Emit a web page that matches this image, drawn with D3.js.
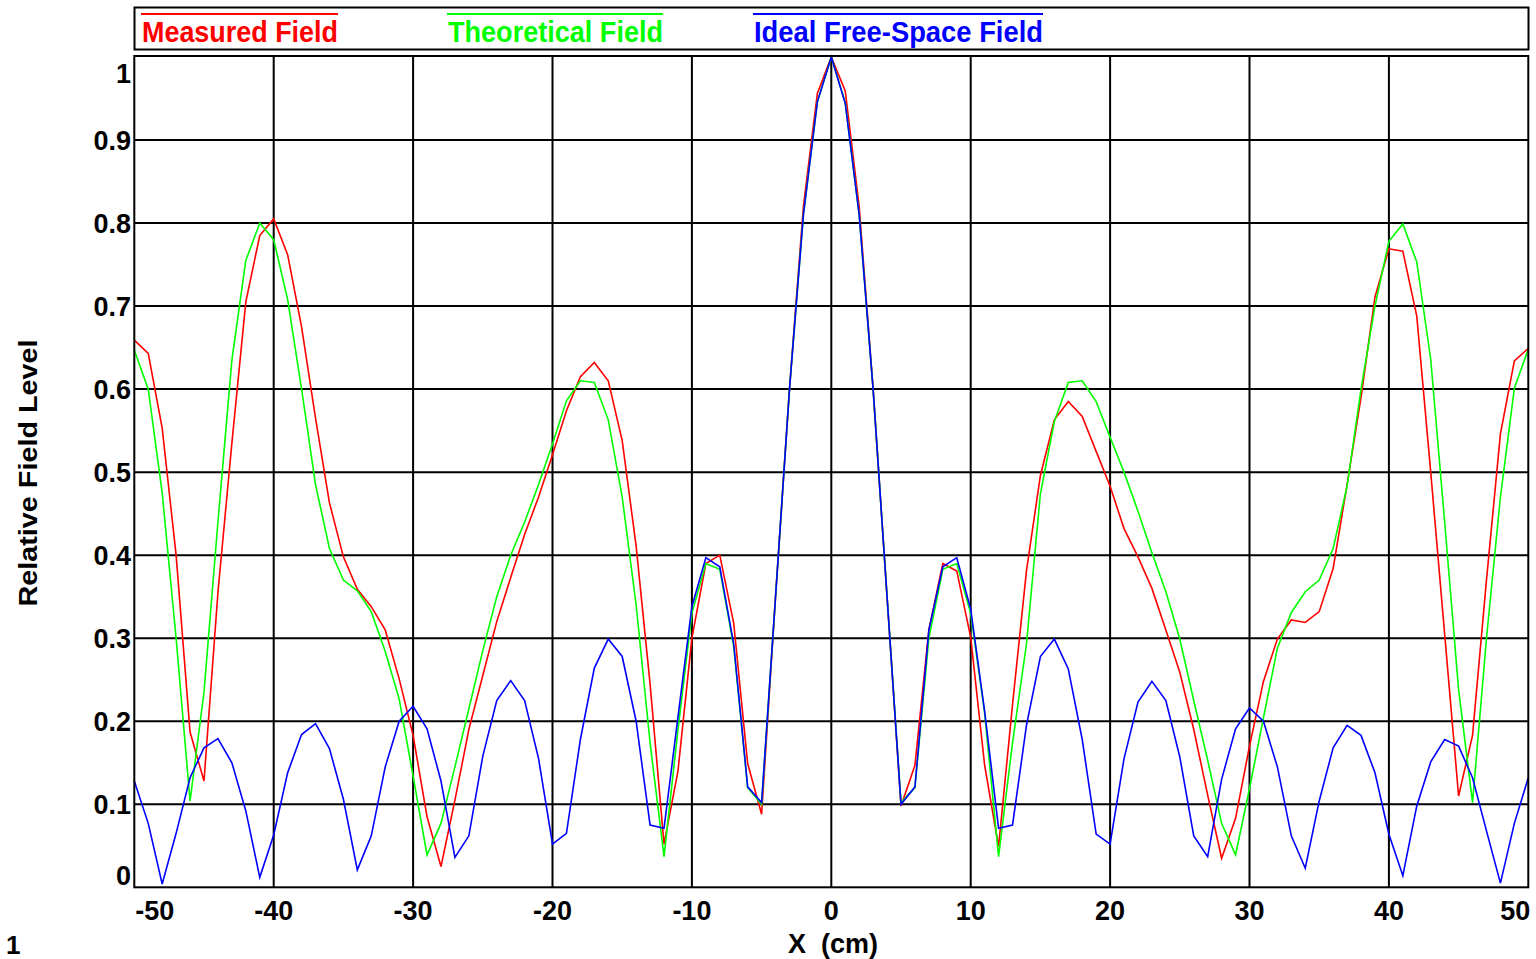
<!DOCTYPE html>
<html>
<head>
<meta charset="utf-8">
<style>
body { margin: 0; background: white; }
text {
    font-family: "Liberation Sans", Arial, Helvetica, sans-serif;
    font-weight: bold;
}
</style>
<script src="https://d3js.org/d3.v7.min.js" charset="utf-8"></script>
</head>
<body>
<div id="chart"></div>
<script>
// sample positions, one per cm
var xPos = d3.range(-50, 51, 1);

var measured = [0.659, 0.643, 0.553, 0.400, 0.187, 0.128, 0.355, 0.535, 0.705, 0.785,
                0.805, 0.762, 0.675, 0.565, 0.463, 0.398, 0.359, 0.338, 0.310, 0.251,
                0.183, 0.085, 0.025, 0.105, 0.190, 0.255, 0.320, 0.373, 0.425, 0.470,
                0.521, 0.574, 0.615, 0.632, 0.610, 0.538, 0.411, 0.245, 0.052, 0.140,
                0.300, 0.390, 0.400, 0.318, 0.149, 0.088, 0.350, 0.600, 0.820, 0.956,
                1.000,
                0.959, 0.820, 0.600, 0.350, 0.098, 0.147, 0.310, 0.390, 0.381, 0.301,
                0.147, 0.049, 0.220, 0.381, 0.496, 0.563, 0.585, 0.567, 0.525, 0.483,
                0.432, 0.398, 0.360, 0.310, 0.259, 0.190, 0.111, 0.035, 0.083, 0.170,
                0.248, 0.299, 0.322, 0.319, 0.332, 0.384, 0.485, 0.590, 0.711, 0.769,
                0.766, 0.688, 0.500, 0.305, 0.110, 0.183, 0.370, 0.546, 0.634, 0.649];

var theoretical = [0.647, 0.600, 0.475, 0.300, 0.104, 0.235, 0.440, 0.635, 0.755, 0.800,
                   0.780, 0.708, 0.600, 0.485, 0.408, 0.370, 0.357, 0.332, 0.284, 0.227,
                   0.134, 0.039, 0.077, 0.145, 0.215, 0.285, 0.350, 0.400, 0.440, 0.485,
                   0.534, 0.586, 0.610, 0.608, 0.563, 0.470, 0.340, 0.174, 0.037, 0.190,
                   0.330, 0.390, 0.383, 0.290, 0.120, 0.100, 0.350, 0.600, 0.810, 0.946,
                   1.000,
                   0.945, 0.810, 0.600, 0.350, 0.102, 0.120, 0.300, 0.383, 0.390, 0.330,
                   0.210, 0.037, 0.174, 0.293, 0.474, 0.561, 0.608, 0.610, 0.585, 0.542,
                   0.500, 0.453, 0.403, 0.356, 0.299, 0.225, 0.153, 0.077, 0.039, 0.119,
                   0.204, 0.288, 0.331, 0.356, 0.370, 0.408, 0.483, 0.600, 0.700, 0.778,
                   0.799, 0.753, 0.636, 0.440, 0.238, 0.102, 0.300, 0.470, 0.601, 0.648];

var freeSpace = [0.128, 0.077, 0.004, 0.065, 0.132, 0.168, 0.179, 0.150, 0.092, 0.012,
                 0.063, 0.138, 0.184, 0.197, 0.167, 0.106, 0.021, 0.062, 0.145, 0.200,
                 0.218, 0.191, 0.128, 0.036, 0.062, 0.158, 0.225, 0.249, 0.225, 0.155,
                 0.052, 0.065, 0.178, 0.264, 0.299, 0.278, 0.200, 0.075, 0.071, 0.205,
                 0.338, 0.397, 0.386, 0.293, 0.121, 0.102, 0.350, 0.600, 0.810, 0.946,
                 1.000,
                 0.944, 0.810, 0.600, 0.350, 0.100, 0.121, 0.310, 0.386, 0.397, 0.335,
                 0.212, 0.071, 0.075, 0.195, 0.278, 0.299, 0.263, 0.178, 0.064, 0.052,
                 0.155, 0.223, 0.248, 0.225, 0.157, 0.062, 0.037, 0.130, 0.191, 0.216,
                 0.200, 0.145, 0.062, 0.023, 0.104, 0.168, 0.195, 0.183, 0.138, 0.064,
                 0.014, 0.098, 0.151, 0.178, 0.170, 0.132, 0.068, 0.005, 0.077, 0.132];

var seriesNames = ["Measured Field", "Theoretical Field", "Ideal Free-Space Field"];
var seriesColors = ["#ff0000", "#00ff00", "#0000ff"];
var xTicks = [-50, -40, -30, -20, -10, 0, 10, 20, 30, 40, 50];
var yTicks = [0, 0.1, 0.2, 0.3, 0.4, 0.5, 0.6, 0.7, 0.8, 0.9, 1];

var WIDTH = 1536, HEIGHT = 959;
var plot = {left: 134.3, right: 1528.3, top: 57, bottom: 887.3};

var svg = d3.select("#chart").append("svg")
    .attr("width", WIDTH)
    .attr("height", HEIGHT)
    .style("display", "block")
    .style("background", "white");

var x = d3.scaleLinear().domain([-50, 50]).range([plot.left, plot.right]);
var y = d3.scaleLinear().domain([0, 1]).range([plot.bottom, plot.top]);

// legend box
svg.append("rect")
    .attr("x", 134.5).attr("y", 7.5)
    .attr("width", 1394).attr("height", 42)
    .attr("fill", "none").attr("stroke", "black").attr("stroke-width", 2);

var legendPos = [{x0: 141, x1: 338}, {x0: 447, x1: 663}, {x0: 753, x1: 1043}];
seriesNames.forEach(function(name, i) {
    var p = legendPos[i];
    svg.append("line")
        .attr("x1", p.x0).attr("x2", p.x1)
        .attr("y1", 14).attr("y2", 14)
        .attr("stroke", seriesColors[i]).attr("stroke-width", 2);
    svg.append("text")
        .attr("x", p.x0 + 1).attr("y", 42)
        .attr("font-size", "29px")
        .attr("fill", seriesColors[i])
        .attr("textLength", p.x1 - p.x0 - 1)
        .attr("lengthAdjust", "spacingAndGlyphs")
        .text(name);
});

// grid
var grid = svg.append("g");
grid.selectAll("line.vx")
    .data(xTicks.slice(1, -1))
    .enter().append("line")
    .attr("x1", function(d) {return x(d);})
    .attr("x2", function(d) {return x(d);})
    .attr("y1", plot.top).attr("y2", plot.bottom)
    .attr("stroke", "black").attr("stroke-width", 2);
grid.selectAll("line.hy")
    .data(yTicks.slice(1, -1))
    .enter().append("line")
    .attr("y1", function(d) {return y(d);})
    .attr("y2", function(d) {return y(d);})
    .attr("x1", plot.left).attr("x2", plot.right)
    .attr("stroke", "black").attr("stroke-width", 2);

// series
var line = d3.line()
    .x(function(d) {return x(d[0]);})
    .y(function(d) {return y(d[1]);});
[measured, theoretical, freeSpace].forEach(function(vals, i) {
    svg.append("path")
        .datum(xPos.map(function(v, j) {return [v, vals[j]];}))
        .attr("d", line)
        .attr("fill", "none")
        .attr("stroke", seriesColors[i])
        .attr("stroke-width", 1.6)
        .attr("stroke-linejoin", "miter");
});

// plot frame
svg.append("rect")
    .attr("x", plot.left).attr("y", 56)
    .attr("width", plot.right - plot.left).attr("height", plot.bottom - 56)
    .attr("fill", "none").attr("stroke", "black").attr("stroke-width", 2);

// y tick labels
svg.selectAll("text.ytick")
    .data(yTicks)
    .enter().append("text")
    .attr("x", 131)
    .attr("y", function(d) {return Math.max(73, Math.min(875, y(d)));})
    .attr("dy", "0.36em")
    .attr("text-anchor", "end")
    .attr("font-size", "27px")
    .text(function(d) {return d3.format("")(d);});

// x tick labels
svg.selectAll("text.xtick")
    .data(xTicks)
    .enter().append("text")
    .attr("x", function(d) {
        if (d == xTicks[0]) return plot.left + 1;
        if (d == xTicks[xTicks.length - 1]) return plot.right + 2;
        return x(d);
    })
    .attr("y", 920)
    .attr("text-anchor", function(d) {
        if (d == xTicks[0]) return "start";
        if (d == xTicks[xTicks.length - 1]) return "end";
        return "middle";
    })
    .attr("font-size", "27px")
    .text(function(d) {return d;});

// axis titles
svg.append("text")
    .attr("x", 833).attr("y", 953)
    .attr("text-anchor", "middle")
    .attr("font-size", "27px")
    .style("white-space", "pre")
    .text("X  (cm)");

svg.append("text")
    .attr("transform", "translate(37,473) rotate(-90)")
    .attr("text-anchor", "middle")
    .attr("font-size", "26px")
    .attr("textLength", 267)
    .attr("lengthAdjust", "spacingAndGlyphs")
    .text("Relative Field Level");

svg.append("text")
    .attr("x", 6).attr("y", 954)
    .attr("font-size", "26px")
    .text("1");
</script>
</body>
</html>
